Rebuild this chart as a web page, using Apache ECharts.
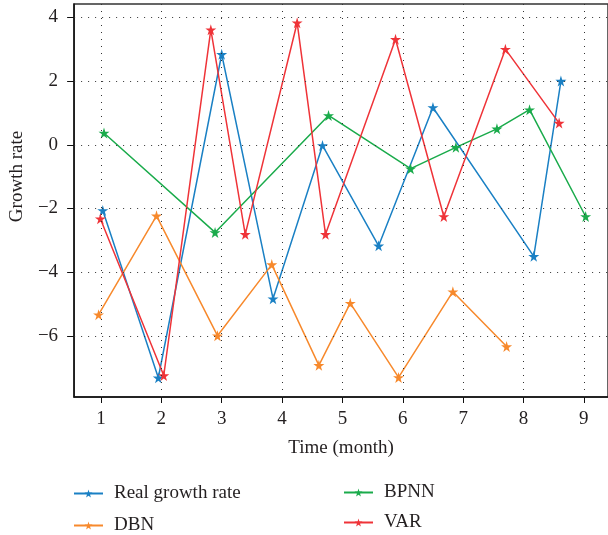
<!DOCTYPE html>
<html>
<head>
<meta charset="utf-8">
<script src="https://cdn.jsdelivr.net/npm/echarts@6/dist/echarts.min.js"></script>
<style>
  html, body { margin: 0; padding: 0; background: #fff; }
  #chart { width: 608px; height: 535px; }
</style>
</head>
<body>
<div id="chart"></div>
<script>
// [time, growth rate] pairs
const realGrowth = [[1.03, -2.06], [1.95, -7.31], [3.0, 2.84], [3.85, -4.83], [4.67, -0.02],
  [5.6, -3.17], [6.5, 1.17], [8.17, -3.5], [8.62, 2.0]];
const dbn = [[0.96, -5.33], [1.92, -2.23], [2.93, -5.99], [3.83, -3.76], [4.61, -6.92],
  [5.13, -4.97], [5.93, -7.3], [6.83, -4.61], [7.72, -6.33]];
const bpnn = [[1.05, 0.37], [2.89, -2.75], [4.77, 0.92], [6.13, -0.75], [6.88, -0.08],
  [7.56, 0.5], [8.1, 1.1], [9.03, -2.25]];
const varModel = [[0.99, -2.32], [2.04, -7.24], [2.82, 3.61], [3.39, -2.81], [4.25, 3.83],
  [4.72, -2.81], [5.88, 3.31], [6.68, -2.25], [7.7, 3.0], [8.59, 0.68]];

const xTicks = [1, 2, 3, 4, 5, 6, 7, 8, 9];
const yTicks = [-6, -4, -2, 0, 2, 4];

const seriesNames = ["Real growth rate", "DBN", "BPNN", "VAR"];
const seriesColors = ["#1a80c4", "#f7892c", "#1aab4b", "#ef3338"];
const seriesData = [realGrowth, dbn, bpnn, varModel];

const star = "path://M50,0 L61,35 L98,35 L68,57 L79,91 L50,70 L21,91 L32,57 L2,35 L39,35 Z";
const serif = "Liberation Serif";
const textColor = "#231f20";
const fontSize = 19;

const chart = echarts.init(document.getElementById("chart"));

const dotted = { color: "#333", width: 1, type: [1, 6] };

const gridLines = {
  name: "grid",
  type: "line",
  data: [],
  silent: true,
  z: 1,
  markLine: {
    silent: true,
    symbol: ["none", "none"],
    label: { show: false },
    lineStyle: dotted,
    animation: false,
    data: xTicks.map((v) => ({ xAxis: v })).concat(yTicks.map((v) => ({ yAxis: v }))),
  },
};

const lines = seriesNames.map((name, i) => ({
  name: name,
  type: "line",
  data: seriesData[i],
  z: 3,
  symbol: star,
  symbolSize: 11,
  color: seriesColors[i],
  lineStyle: { width: 1.5 },
  itemStyle: { color: seriesColors[i] },
}));

const legendText = {
  fontFamily: serif,
  fontSize: fontSize,
  color: textColor,
  padding: [0, 0, 0, 6],
};

function legendAt(names, left, top, gap) {
  return {
    data: names,
    orient: "vertical",
    left: left,
    top: top,
    height: 60,
    padding: 0,
    itemWidth: 29,
    itemHeight: 10,
    itemGap: gap,
    textStyle: legendText,
  };
}

chart.setOption({
  animation: false,
  grid: {
    left: 73,
    top: 4,
    right: -2,
    bottom: 138,
    show: true,
    borderColor: "#333",
    borderWidth: 1.5,
  },
  legend: [
    legendAt(["Real growth rate", "DBN"], 73, 484, 13),
    legendAt(["BPNN", "VAR"], 343, 483, 11),
  ],
  xAxis: {
    type: "value",
    min: 0.555,
    max: 9.4,
    name: "Time (month)",
    nameLocation: "middle",
    nameGap: 42,
    nameTextStyle: { fontFamily: serif, fontSize: fontSize, color: textColor },
    axisLine: { onZero: false, lineStyle: { color: "#111", width: 1.5 } },
    axisTick: { show: true, inside: false, length: 6, customValues: xTicks, lineStyle: { color: "#111" } },
    axisLabel: { customValues: xTicks, margin: 13, fontFamily: serif, fontSize: fontSize, color: textColor },
    splitLine: { show: false },
  },
  yAxis: {
    type: "value",
    min: -7.914,
    max: 4.417,
    name: "Growth rate",
    nameLocation: "middle",
    nameGap: 46,
    nameRotate: 90,
    nameTextStyle: { fontFamily: serif, fontSize: fontSize, color: textColor, padding: [0, 0, 0, 48] },
    axisLine: { onZero: false, lineStyle: { color: "#111", width: 1.5 } },
    axisTick: { show: true, inside: false, length: 7, customValues: yTicks, lineStyle: { color: "#111" } },
    axisLabel: {
      customValues: yTicks,
      margin: 16,
      fontFamily: serif,
      fontSize: fontSize,
      color: textColor,
      formatter: (v) => (v < 0 ? "\u2212" + Math.abs(v) : String(v)),
    },
    splitLine: { show: false },
  },
  series: [gridLines].concat(lines),
});
</script>
</body>
</html>
